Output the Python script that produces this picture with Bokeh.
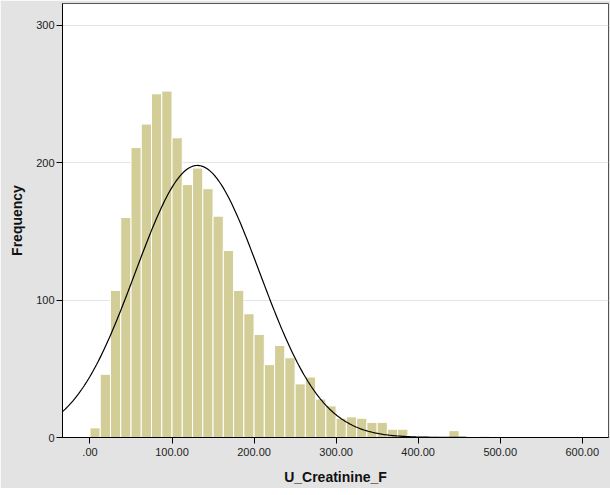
import math
from bokeh.plotting import figure
from bokeh.models import FixedTicker, Range1d, ColumnDataSource
from bokeh.embed import file_html
from bokeh.resources import INLINE

# ---- data ----
bin_width = 12.5
bin_starts = [i * 12.5 for i in range(39)]
counts = [7, 46, 107, 160, 211, 228, 250, 252, 218, 184,
          196, 181, 161, 136, 107, 90, 75, 53, 67, 58,
          39, 44, 28, 23, 14, 15, 14, 11, 11, 6,
          6, 1, 1, 1, 0, 5, 1, 0, 1]
fit_mean = 131.0
fit_sd = 75.8
x_ticks = [0, 100, 200, 300, 400, 500, 600]
x_tick_labels = [".00", "100.00", "200.00", "300.00", "400.00", "500.00", "600.00"]
y_ticks = [0, 100, 200, 300]
x_label = "U_Creatinine_F"
y_label = "Frequency"

n_total = sum(counts)

p = figure(width=610, height=488, output_backend="svg", toolbar_location=None,
           x_range=Range1d(-33.5, 632), y_range=Range1d(0, 315.7),
           min_border_left=62, min_border_right=2, min_border_top=3, min_border_bottom=51)

p.background_fill_color = "white"
p.border_fill_color = "#e3e3e3"
p.outline_line_color = "#555555"
p.outline_line_width = 1

src = ColumnDataSource(dict(
    left=bin_starts,
    right=[b + bin_width for b in bin_starts],
    top=counts,
    bottom=[0] * len(counts),
))
p.quad(left="left", right="right", top="top", bottom="bottom", source=src,
       fill_color="#d3ce98", line_color="white", line_width=1)

# fitted normal curve (SPSS "display normal curve") from mean and sd
xs = [-33.5 + i * (665.5 / 400) for i in range(401)]
ys = [n_total * bin_width / (fit_sd * math.sqrt(2 * math.pi)) *
      math.exp(-0.5 * ((x - fit_mean) / fit_sd) ** 2) for x in xs]
p.line(xs, ys, line_color="black", line_width=1.2)

# axes
p.xaxis.ticker = FixedTicker(ticks=x_ticks)
p.xaxis.major_label_overrides = {t: l for t, l in zip(x_ticks, x_tick_labels)}
p.yaxis.ticker = FixedTicker(ticks=y_ticks)
p.xaxis.axis_label = x_label
p.yaxis.axis_label = y_label

for ax in (p.xaxis[0], p.yaxis[0]):
    ax.axis_line_color = "black"
    ax.major_tick_line_color = "black"
    ax.major_tick_out = 6
    ax.major_tick_in = 0
    ax.minor_tick_line_color = None
    ax.major_label_text_font = "Liberation Sans"
    ax.major_label_text_font_size = "11px"
    ax.major_label_text_color = "#222222"
    ax.axis_label_text_font = "Liberation Sans"
    ax.axis_label_text_font_size = "14px"
    ax.axis_label_text_font_style = "bold"
    ax.axis_label_text_color = "#111111"

p.xaxis.major_label_standoff = 4
p.xaxis.axis_label_standoff = 10
p.yaxis.major_label_standoff = 2
p.yaxis.axis_label_standoff = 8

p.xgrid.grid_line_color = None
p.ygrid.grid_line_color = "#e4e4e4"
p.ygrid.grid_line_width = 1

open("out.html", "w").write(file_html(p, INLINE))
